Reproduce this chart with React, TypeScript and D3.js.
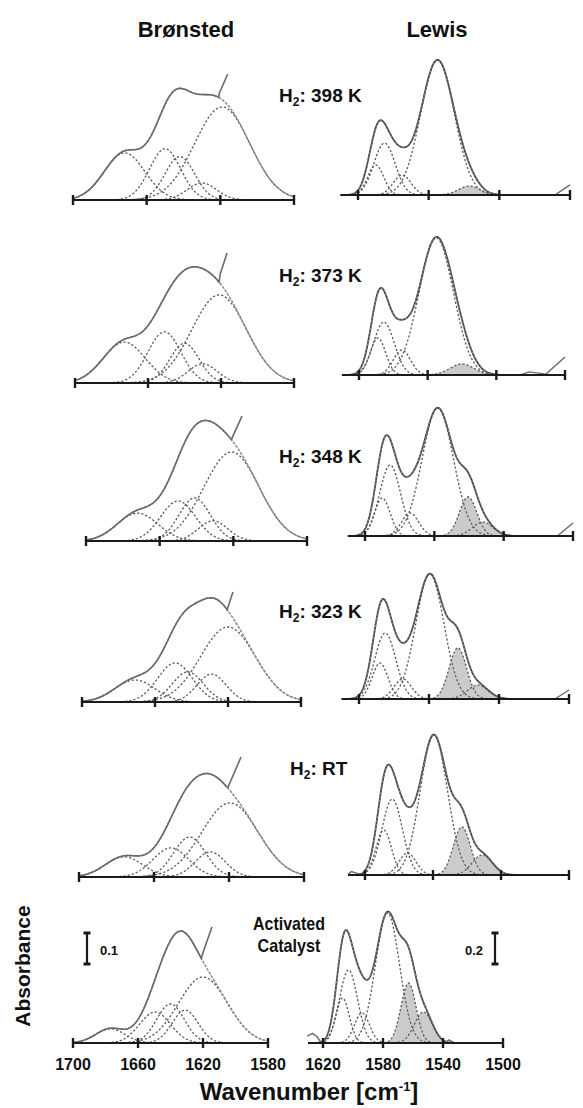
import React from "react";
import * as d3 from "d3";

// ---------- data ----------
const conditionLabels = ["398 K", "373 K", "348 K", "323 K", "RT"];
const bronstedTicks = [1700, 1660, 1620, 1580];
const lewisTicks = [1620, 1580, 1540, 1500];

// Brønsted band components: [centre cm-1, height (absorbance), sigma cm-1]
const bronsted398 = [[1672, 0.152, 11], [1650, 0.165, 8.5], [1642, 0.14, 8], [1630, 0.055, 8], [1619, 0.3, 15]];
const bronsted373 = [[1673, 0.132, 11.5], [1651, 0.165, 9], [1640, 0.128, 8], [1630, 0.062, 8], [1621, 0.284, 15]];
const bronsted348 = [[1672, 0.09, 11], [1650, 0.129, 9.5], [1641, 0.139, 8.5], [1631, 0.065, 8], [1621, 0.287, 15]];
const bronsted323 = [[1671, 0.071, 11], [1649, 0.126, 9.5], [1642, 0.097, 8.5], [1629, 0.09, 8], [1620, 0.242, 15]];
const bronstedRT = [[1676, 0.065, 10], [1651, 0.094, 9.5], [1641, 0.129, 8.5], [1630, 0.081, 8], [1619.5, 0.239, 15]];
const bronstedAct = [[1677, 0.046, 9], [1649.5, 0.1, 9.5], [1640, 0.126, 8.5], [1631, 0.106, 8], [1620, 0.213, 15]];
// measured spectrum rising again past the fit: [cm-1, absorbance]
const bronstedTail398 = [[1620.5, 0.345], [1616, 0.406]];
const bronstedTail373 = [[1620.5, 0.35], [1616.7, 0.419]];
const bronstedTail348 = [[1620.5, 0.335], [1615.3, 0.403]];
const bronstedTail323 = [[1620.5, 0.297], [1617.3, 0.355]];
const bronstedTailRT = [[1620.5, 0.29], [1613.6, 0.387]];
const bronstedTailAct = [[1620.5, 0.284], [1614.5, 0.374]];

// Lewis band components: [centre cm-1, height (absorbance), sigma cm-1, shaded]
const lewis398 = [[1610, 0.194, 4.5, 0], [1605, 0.335, 6, 0], [1595, 0.129, 5, 0], [1575, 0.871, 9.5, 0], [1557, 0.058, 6, 1]];
const lewis373 = [[1609, 0.239, 4.5, 0], [1605.5, 0.342, 6, 0], [1595, 0.161, 5, 0], [1575, 0.884, 10, 0], [1560, 0.071, 7, 1]];
const lewis348 = [[1610, 0.245, 4.5, 0], [1605.5, 0.458, 6, 0], [1594, 0.148, 5, 0], [1578, 0.826, 9, 0], [1560.5, 0.252, 5, 1], [1552, 0.09, 6, 1]];
const lewis323 = [[1608, 0.232, 4.5, 0], [1605, 0.426, 6, 0], [1595, 0.129, 5, 0], [1579.5, 0.806, 8, 0], [1563.5, 0.329, 5, 1], [1552, 0.09, 6, 1]];
const lewisRT = [[1609, 0.29, 4.5, 0], [1604, 0.49, 6, 0], [1595, 0.142, 5, 0], [1579.5, 0.903, 8, 0], [1563, 0.31, 5, 1], [1551, 0.129, 6, 1]];
const lewisAct = [[1607, 0.29, 4.5, 0], [1603, 0.471, 6, 0], [1594, 0.194, 5, 0], [1577, 0.839, 8, 0], [1563, 0.387, 5, 1], [1553, 0.2, 6, 1]];
// measured spectrum outside the fitted region: [cm-1, absorbance]
const lewisEdges398 = [[[1508.5, 0], [1500, 0.065]]];
const lewisEdges373 = [[[1526, 0], [1521, 0.02], [1511, 0.006], [1500, 0.116]]];
const lewisEdges348 = [[[1509, 0], [1500, 0.084]]];
const lewisEdges323 = [[[1508, 0], [1500, 0.058]]];
const lewisEdgesRT = [[[1630, 0.005], [1628, 0.022], [1625, 0.012], [1622, 0]]];
const lewisEdgesAct = [[[1630.5, 0.045], [1627, 0.062], [1624, 0.04], [1621, 0]], [[1539, 0], [1536, 0.02], [1532, 0]]];

const bronstedSets = [bronsted398, bronsted373, bronsted348, bronsted323, bronstedRT, bronstedAct];
const bronstedTails = [bronstedTail398, bronstedTail373, bronstedTail348, bronstedTail323, bronstedTailRT, bronstedTailAct];
const lewisSets = [lewis398, lewis373, lewis348, lewis323, lewisRT, lewisAct];
const lewisEdges = [lewisEdges398, lewisEdges373, lewisEdges348, lewisEdges323, lewisEdgesRT, lewisEdgesAct];

// ---------- layout ----------
const W = 583;
const H = 1108;
const leftLayout = [
  { y: 200, x0: 73, x1: 294 },
  { y: 383, x0: 75, x1: 294 },
  { y: 541, x0: 86, x1: 307 },
  { y: 702, x0: 82, x1: 301 },
  { y: 877, x0: 79, x1: 304 },
  { y: 1043, x0: 73, x1: 268 },
];
const rightLayout = [
  { y: 195, x0: 358, x1: 570 },
  { y: 375, x0: 359, x1: 565 },
  { y: 536, x0: 365, x1: 573 },
  { y: 699, x0: 359, x1: 569 },
  { y: 875, x0: 365, x1: 569 },
  { y: 1043, x0: 323, x1: 503 },
];
const labelPos = [
  { x: 279, y: 102 },
  { x: 279, y: 282 },
  { x: 279, y: 463 },
  { x: 279, y: 618 },
  { x: 290, y: 775 },
];
const FONT = "'Liberation Sans', Arial, Helvetica, sans-serif";
const LINE = "#6a6a6a";
const DASH = "#5a5a5a";
const AXIS = "#1a1a1a";
const FILL = "#cbcbcb";

const gauss = (w: number, c: number, h: number, s: number) => h * Math.exp(-((w - c) * (w - c)) / (2 * s * s));
const total = (comps: number[][], w: number) => comps.reduce((a, c) => a + gauss(w, c[0], c[1], c[2]), 0);

function Axis({ x, y, ticks, from, to }: any) {
  return (
    <g>
      <line x1={x(from)} x2={x(to)} y1={y} y2={y} stroke={AXIS} strokeWidth={2} />
      {ticks.map((t: number) => (
        <line key={t} x1={x(t)} x2={x(t)} y1={y - 5} y2={y + 5} stroke={AXIS} strokeWidth={2.4} />
      ))}
    </g>
  );
}

function BronstedPanel({ comps, tail, L }: any) {
  const x = d3.scaleLinear().domain([1700, 1580]).range([L.x0, L.x1]);
  const y = d3.scaleLinear().domain([0, 1]).range([L.y, L.y - 310]);
  const line = d3.line<number[]>().x((d) => x(d[0])).y((d) => y(d[1]));
  const full = d3.range(1700, 1579.9, -0.5);
  const fitPts = full.map((w) => [w, total(comps, w)]);
  const specPts = d3.range(1700, tail[0][0], -0.5).map((w) => [w, total(comps, w)]);
  specPts.push(...tail);
  return (
    <g>
      {comps.map((c: number[], i: number) => {
        const ws = full.filter((w) => Math.abs(w - c[0]) <= 3.4 * c[2]);
        return (
          <path key={i} d={line(ws.map((w) => [w, gauss(w, c[0], c[1], c[2])])) || ""} fill="none"
            stroke={DASH} strokeWidth={1.3} strokeDasharray="2.2,2" />
        );
      })}
      <path d={line(fitPts) || ""} fill="none" stroke="#8a8a8a" strokeWidth={1.5} strokeDasharray="3,1.2" />
      <path d={line(specPts) || ""} fill="none" stroke={LINE} strokeWidth={1.6} />
      <Axis x={x} y={L.y} ticks={bronstedTicks} from={1700} to={1580} />
    </g>
  );
}

function LewisPanel({ comps, edges, L }: any) {
  const x = d3.scaleLinear().domain([1620, 1500]).range([L.x0, L.x1]);
  const y = d3.scaleLinear().domain([0, 1]).range([L.y, L.y - 155]);
  const line = d3.line<number[]>().x((d) => x(d[0])).y((d) => y(d[1]));
  const area = d3.area<number[]>().x((d) => x(d[0])).y0(L.y).y1((d) => y(d[1]));
  const full = d3.range(1625, 1529.9, -0.25);
  const fitPts = full.map((w) => [w, total(comps, w)]);
  return (
    <g>
      {comps.filter((c: number[]) => c[3] === 1).map((c: number[], i: number) => {
        const ws = full.filter((w) => Math.abs(w - c[0]) <= 3.2 * c[2]);
        return <path key={"f" + i} d={area(ws.map((w) => [w, gauss(w, c[0], c[1], c[2])])) || ""} fill={FILL} stroke="none" />;
      })}
      {comps.map((c: number[], i: number) => {
        const ws = full.filter((w) => Math.abs(w - c[0]) <= 3.3 * c[2]);
        return (
          <path key={i} d={line(ws.map((w) => [w, gauss(w, c[0], c[1], c[2])])) || ""} fill="none"
            stroke={DASH} strokeWidth={1.3} strokeDasharray="2.2,2" />
        );
      })}
      <path d={line(fitPts) || ""} fill="none" stroke="#444" strokeWidth={1.8} />
      <path d={line(fitPts) || ""} fill="none" stroke="#999" strokeWidth={0.9} strokeDasharray="2,2" />
      {edges.map((e: number[][], i: number) => (
        <path key={"e" + i} d={line(e) || ""} fill="none" stroke={LINE} strokeWidth={1.4} />
      ))}
      <Axis x={x} y={L.y} ticks={lewisTicks} from={1630} to={1500} />
    </g>
  );
}

function ScaleBar({ x, y0, y1 }: any) {
  return (
    <g stroke={AXIS} strokeWidth={2.2}>
      <line x1={x} x2={x} y1={y0} y2={y1} />
      <line x1={x - 3.5} x2={x + 3.5} y1={y0} y2={y0} strokeWidth={3} />
      <line x1={x - 3.5} x2={x + 3.5} y1={y1} y2={y1} strokeWidth={3} />
    </g>
  );
}

export default function App() {
  const lb = leftLayout[5];
  const rb = rightLayout[5];
  const xl = d3.scaleLinear().domain([1700, 1580]).range([lb.x0, lb.x1]);
  const xr = d3.scaleLinear().domain([1620, 1500]).range([rb.x0, rb.x1]);
  return (
    <svg width={W} height={H} style={{ position: "absolute", left: 0, top: 0, background: "#fff" }} fontFamily={FONT}>
      <rect x={0} y={0} width={W} height={H} fill="#fff" />
      <text x={186} y={37} textAnchor="middle" fontSize={22} fontWeight="bold" fill="#111">Brønsted</text>
      <text x={437} y={37} textAnchor="middle" fontSize={22} fontWeight="bold" fill="#111">Lewis</text>

      {bronstedSets.map((c, i) => (
        <BronstedPanel key={"b" + i} comps={c} tail={bronstedTails[i]} L={leftLayout[i]} />
      ))}
      {lewisSets.map((c, i) => (
        <LewisPanel key={"l" + i} comps={c} edges={lewisEdges[i]} L={rightLayout[i]} />
      ))}

      {conditionLabels.map((t, i) => (
        <text key={t} x={labelPos[i].x} y={labelPos[i].y} fontSize={19} fontWeight="bold" fill="#111">
          H<tspan fontSize={12} dy={4}>2</tspan><tspan dy={-4}>: {t}</tspan>
        </text>
      ))}
      <text x={289} y={930} textAnchor="middle" fontSize={19} fontWeight="bold" fill="#111" textLength={72} lengthAdjust="spacingAndGlyphs">Activated</text>
      <text x={289} y={952} textAnchor="middle" fontSize={19} fontWeight="bold" fill="#111" textLength={63} lengthAdjust="spacingAndGlyphs">Catalyst</text>

      {bronstedTicks.map((t) => (
        <text key={"bt" + t} x={xl(t)} y={1070} textAnchor="middle" fontSize={16} fontWeight="bold" fill="#111">{t}</text>
      ))}
      {lewisTicks.map((t) => (
        <text key={"lt" + t} x={xr(t)} y={1070} textAnchor="middle" fontSize={16} fontWeight="bold" fill="#111">{t}</text>
      ))}

      <ScaleBar x={87} y0={933} y1={964} />
      <text x={100} y={955} fontSize={13} fontWeight="bold" fill="#111">0.1</text>
      <ScaleBar x={495} y0={933} y1={964} />
      <text x={465} y={955} fontSize={13} fontWeight="bold" fill="#111">0.2</text>

      <text x={30} y={966} transform="rotate(-90 30 966)" textAnchor="middle" fontSize={21} fontWeight="bold" fill="#111">Absorbance</text>
      <text x={309} y={1100} textAnchor="middle" fontSize={24} fontWeight="bold" fill="#111">
        Wavenumber [cm<tspan fontSize={13} dy={-9}>-1</tspan><tspan dy={9}>]</tspan>
      </text>
    </svg>
  );
}
